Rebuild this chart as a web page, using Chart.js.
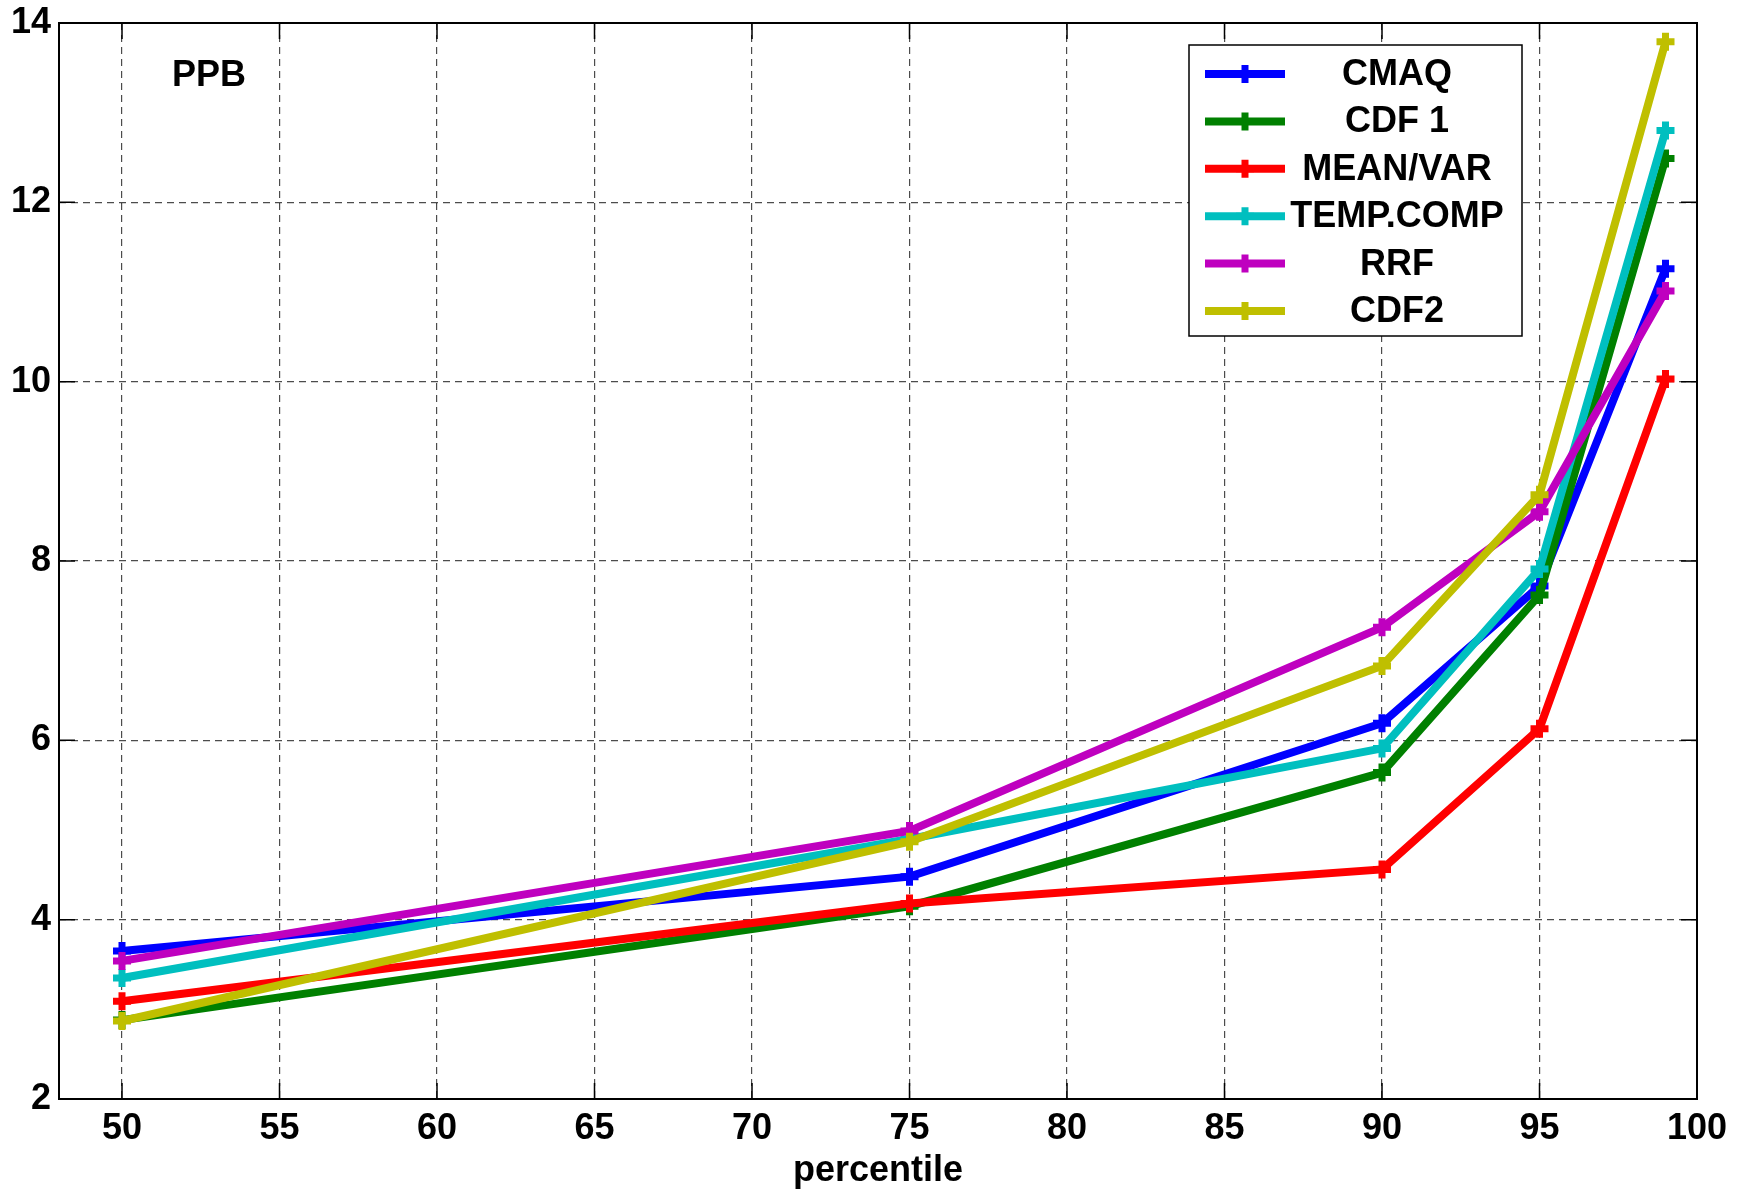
<!DOCTYPE html>
<html>
<head>
<meta charset="utf-8">
<script src="https://cdn.jsdelivr.net/npm/chart.js@4.4.1/dist/chart.umd.min.js"></script>
<style>
  html, body { margin: 0; padding: 0; background: #ffffff; }
  #wrap { width: 1745px; height: 1189px; }
</style>
</head>
<body>
<div id="wrap"><canvas id="chart" width="1745" height="1189"></canvas></div>
<script>
const percentiles = [50, 75, 90, 95, 99];
const xTicks = [50, 55, 60, 65, 70, 75, 80, 85, 90, 95, 100];
const yTicks = [2, 4, 6, 8, 10, 12, 14];

const seriesNames = ['CMAQ', 'CDF 1', 'MEAN/VAR', 'TEMP.COMP', 'RRF', 'CDF2'];
const seriesColors = ['#0000ff', '#008000', '#ff0000', '#00bfbf', '#bf00bf', '#bfbf00'];

const cmaq = [3.65, 4.48, 6.19, 7.72, 11.26];
const cdf1 = [2.88, 4.15, 5.64, 7.62, 12.49];
const meanVar = [3.09, 4.18, 4.56, 6.13, 10.03];
const tempComp = [3.35, 4.90, 5.91, 7.91, 12.80];
const rrf = [3.54, 4.99, 7.26, 8.55, 11.01];
const cdf2 = [2.87, 4.87, 6.83, 8.74, 13.79];

const seriesValues = [cmaq, cdf1, meanVar, tempComp, rrf, cdf2];

const FONT = 'Liberation Sans, Arial, Helvetica, sans-serif';
const FS = 36;

const datasets = seriesValues.map((vals, i) => ({
    label: seriesNames[i],
    data: vals.map((v, j) => ({ x: percentiles[j], y: v })),
    borderColor: seriesColors[i],
    backgroundColor: seriesColors[i],
    borderWidth: 8,
    pointStyle: 'cross',
    pointRadius: 9,
    pointBorderWidth: 7,
    pointBorderColor: seriesColors[i],
    tension: 0,
    fill: false,
    order: seriesValues.length - 1 - i,
}));

// box, inside ticks, PPB note and legend, matlab style
const framePlugin = {
    id: 'frame',
    afterDatasetsDraw(chart) {
        const { ctx, chartArea: a, scales } = chart;
        ctx.save();

        ctx.strokeStyle = '#000';
        ctx.lineWidth = 1.5;
        ctx.beginPath();
        xTicks.forEach((t) => {
            const x = scales.x.getPixelForValue(t);
            ctx.moveTo(x, a.bottom); ctx.lineTo(x, a.bottom - 16);
            ctx.moveTo(x, a.top); ctx.lineTo(x, a.top + 16);
        });
        yTicks.forEach((t) => {
            const y = scales.y.getPixelForValue(t);
            ctx.moveTo(a.left, y); ctx.lineTo(a.left + 16, y);
            ctx.moveTo(a.right, y); ctx.lineTo(a.right - 16, y);
        });
        ctx.stroke();

        ctx.lineWidth = 2;
        ctx.strokeRect(a.left, a.top, a.right - a.left, a.bottom - a.top);

        ctx.fillStyle = '#000';
        ctx.font = 'bold ' + FS + 'px ' + FONT;
        ctx.textAlign = 'center';
        ctx.textBaseline = 'middle';
        ctx.fillText('PPB', 209, 76);

        // legend
        const lx = 1189, ly = 45, lw = 333, lh = 291;
        ctx.fillStyle = '#fff';
        ctx.fillRect(lx, ly, lw, lh);
        ctx.strokeStyle = '#000';
        ctx.lineWidth = 1.5;
        ctx.strokeRect(lx, ly, lw, lh);
        seriesNames.forEach((name, i) => {
            const y = 74 + i * 47.4;
            ctx.strokeStyle = seriesColors[i];
            ctx.lineWidth = 8;
            ctx.beginPath();
            ctx.moveTo(1205, y); ctx.lineTo(1285, y);
            ctx.stroke();
            ctx.lineWidth = 7;
            ctx.beginPath();
            ctx.moveTo(1245 - 9, y); ctx.lineTo(1245 + 9, y);
            ctx.moveTo(1245, y - 9); ctx.lineTo(1245, y + 9);
            ctx.stroke();
            ctx.fillStyle = '#000';
            ctx.fillText(name, 1397, y + 1);
        });
        ctx.restore();
    },
};

new Chart(document.getElementById('chart'), {
    type: 'line',
    data: { datasets },
    options: {
        responsive: false,
        animation: false,
        layout: { padding: { left: 0, top: 23, right: 48, bottom: 0 } },
        plugins: {
            legend: { display: false },
            tooltip: { enabled: false },
        },
        scales: {
            x: {
                type: 'linear',
                min: 48,
                max: 100,
                afterBuildTicks: (scale) => { scale.ticks = xTicks.map((v) => ({ value: v })); },
                afterFit: (scale) => {
                    scale.height = 90;
                    scale.paddingLeft = 0;
                    scale.paddingRight = 0;
                },
                grid: {
                    color: 'rgba(0,0,0,0.7)',
                    lineWidth: 1.2,
                    drawTicks: false,
                },
                border: { display: false, dash: [7, 5] },
                ticks: {
                    color: '#000',
                    padding: 8,
                    maxRotation: 0,
                    font: { family: FONT, size: FS, weight: 'bold' },
                },
                title: {
                    display: true,
                    text: 'percentile',
                    color: '#000',
                    padding: { top: 0, bottom: 0 },
                    font: { family: FONT, size: FS, weight: 'bold', lineHeight: 1 },
                },
            },
            y: {
                min: 2,
                max: 14,
                afterBuildTicks: (scale) => { scale.ticks = yTicks.map((v) => ({ value: v })); },
                afterFit: (scale) => {
                    scale.width = 59;
                    scale.paddingTop = 0;
                    scale.paddingBottom = 0;
                },
                grid: {
                    color: 'rgba(0,0,0,0.7)',
                    lineWidth: 1.2,
                    drawTicks: false,
                },
                border: { display: false, dash: [7, 5] },
                ticks: {
                    color: '#000',
                    padding: 8,
                    font: { family: FONT, size: FS, weight: 'bold' },
                },
            },
        },
    },
    plugins: [framePlugin],
});
</script>
</body>
</html>
